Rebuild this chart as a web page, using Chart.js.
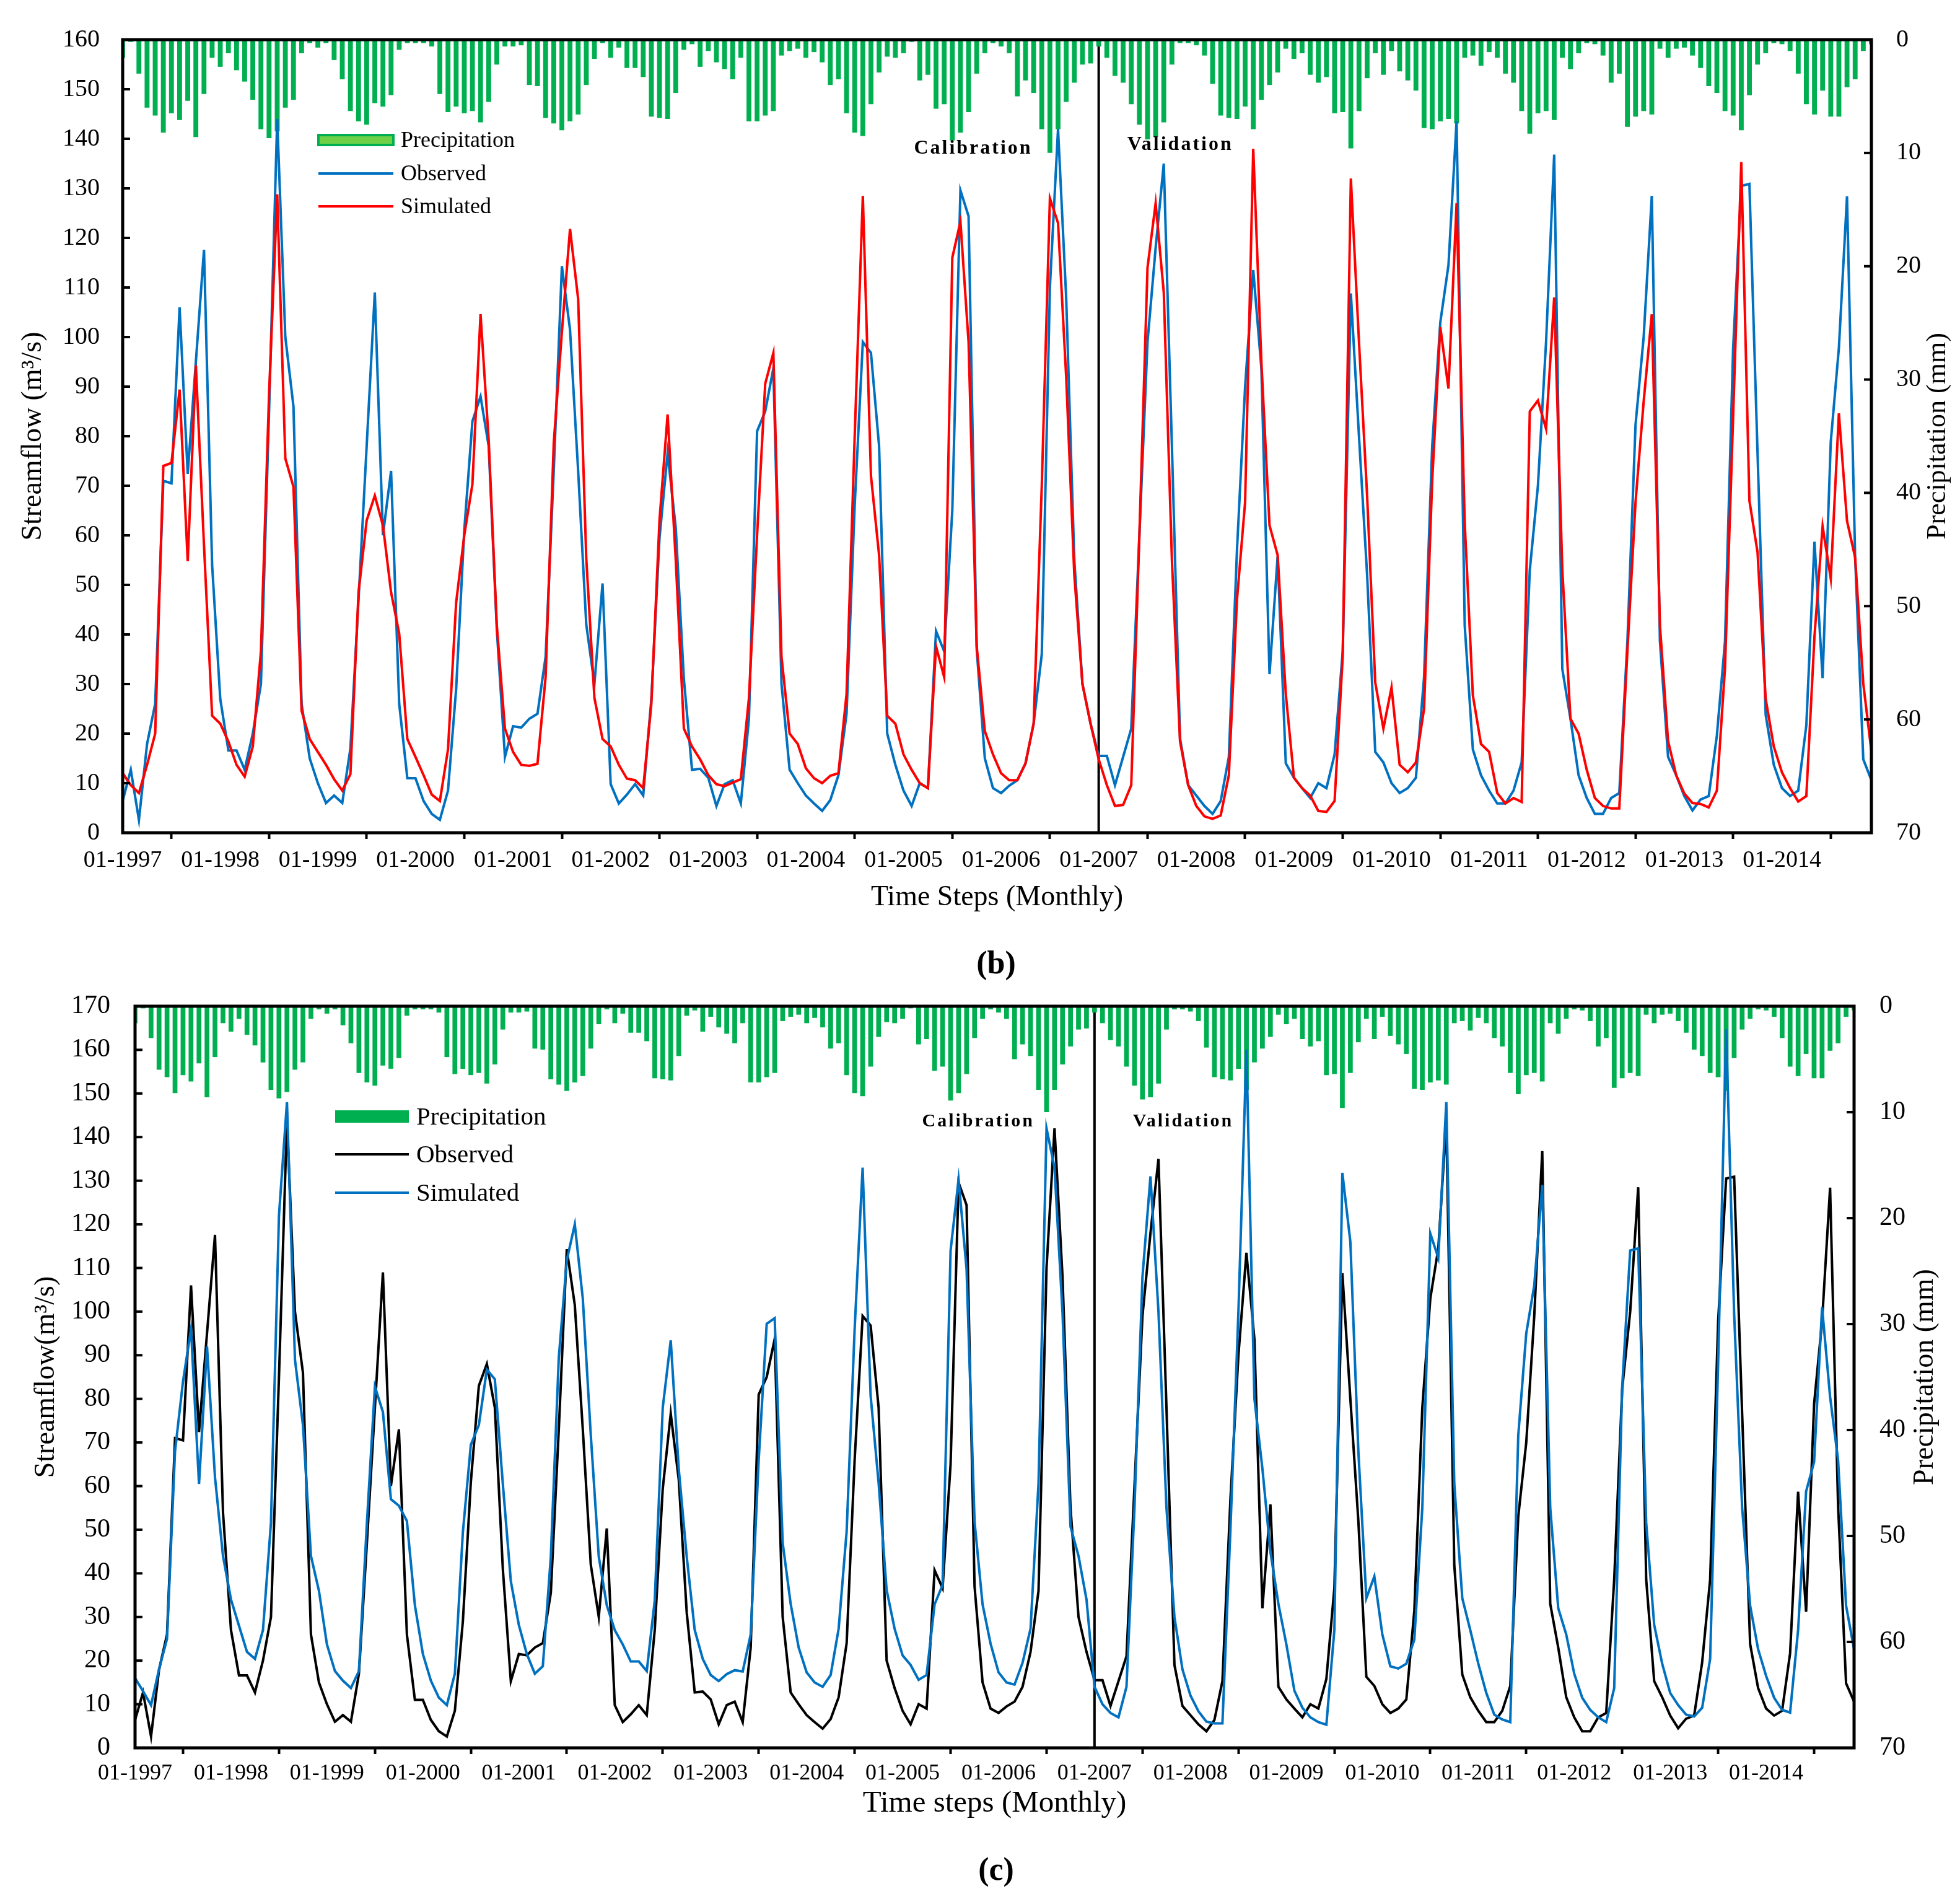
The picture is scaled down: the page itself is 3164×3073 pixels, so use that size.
<!DOCTYPE html>
<html lang="en">
<head>
<meta charset="UTF-8">
<title>Streamflow calibration and validation</title>
<script src="https://cdn.jsdelivr.net/npm/chart.js"></script>
<style>
    body { margin: 0; background: #fff; width: 3164px; height: 3073px; position: relative; overflow: hidden; }
    .panel { position: absolute; left: 0; }
    .tag { position: absolute; z-index: 2; font-family: "Liberation Serif", "Times New Roman", serif;
           font-weight: bold; font-size: 52px; line-height: 1; transform: translateX(-50%); }
</style>
</head>
<body>
<canvas id="chartB" class="panel" width="3164" height="1477" style="top:0; width:3164px; height:1477px"></canvas>
<canvas id="chartC" class="panel" width="3164" height="1401" style="top:1540px; width:3164px; height:1401px"></canvas>
<div class="tag" style="left:1608px; top:1528px">(b)</div>
<div class="tag" style="left:1608px; top:2991px">(c)</div>

<script>
// monthly time steps 01-1997 .. 12-2014
const years = [1997, 1998, 1999, 2000, 2001, 2002, 2003, 2004, 2005,
               2006, 2007, 2008, 2009, 2010, 2011, 2012, 2013, 2014];
const months = ['01', '02', '03', '04', '05', '06', '07', '08', '09', '10', '11', '12'];
const labels = years.flatMap(y => months.map(m => m + '-' + y));

// precipitation (mm), drawn hanging from the top on the right axis
const precipitation = [
    1.6, 0.2, 3.0, 6.0, 6.7, 8.2, 6.5, 7.1, 5.4, 8.6, 4.8, 1.6,
    2.4, 1.2, 2.7, 3.7, 5.3, 7.9, 8.7, 8.1, 6.0, 5.3, 1.2, 0.3,
    0.7, 0.3, 1.8, 3.5, 6.3, 7.2, 7.5, 5.6, 5.9, 4.9, 0.9, 0.3,
    0.3, 0.3, 0.6, 4.8, 6.4, 5.9, 6.5, 6.3, 7.3, 5.5, 2.2, 0.6,
    0.6, 0.5, 4.0, 4.1, 6.9, 7.4, 8.0, 7.2, 6.6, 4.0, 1.7, 0.3,
    1.6, 0.7, 2.5, 2.5, 3.3, 6.8, 6.9, 7.0, 4.7, 0.9, 0.4, 2.4,
    1.0, 2.0, 2.6, 3.5, 1.6, 7.2, 7.2, 6.7, 6.3, 1.4, 1.0, 0.8,
    1.6, 1.1, 2.0, 4.0, 3.5, 6.5, 8.2, 8.5, 5.7, 2.9, 1.5, 1.6,
    1.2, 0.2, 3.6, 3.1, 6.1, 5.7, 8.9, 8.2, 6.4, 3.0, 1.2, 0.3,
    0.6, 1.2, 5.0, 3.6, 4.7, 7.9, 10.0, 7.9, 5.5, 3.8, 2.2, 2.1,
    0.6, 1.6, 3.2, 3.8, 5.7, 7.5, 8.8, 8.6, 7.3, 2.2, 0.3, 0.3,
    0.5, 1.4, 3.9, 6.7, 6.9, 7.0, 5.9, 7.9, 5.3, 4.0, 2.9, 0.8,
    1.7, 1.2, 3.1, 3.8, 3.3, 6.5, 6.4, 9.6, 6.3, 3.4, 1.2, 3.1,
    1.0, 2.8, 3.6, 4.5, 7.8, 7.9, 7.2, 7.0, 7.4, 1.6, 1.4, 2.3,
    1.1, 1.6, 3.0, 3.8, 6.3, 8.3, 6.5, 6.3, 7.1, 1.6, 2.6, 1.2,
    0.3, 0.4, 1.4, 3.8, 3.0, 7.7, 6.8, 6.3, 6.6, 0.8, 1.6, 0.8,
    0.7, 1.4, 2.5, 4.1, 4.7, 6.3, 6.7, 8.0, 4.9, 2.2, 1.2, 0.3,
    0.4, 1.0, 3.0, 5.7, 6.6, 4.5, 6.8, 6.8, 4.2, 3.5, 1.0, 0.4
];

// observed streamflow (m3/s), same in both panels
const observed = [
    6.4, 12.7, 2.6, 17.9, 26, 71, 70.5, 106, 72.4, 95, 117.6, 54,
    27, 16.6, 16.6, 12.7, 20, 30, 85, 144, 100, 86, 26, 15,
    10, 6, 7.5, 6, 17, 47, 78, 109, 60, 73, 26, 11,
    11, 6.4, 3.8, 2.6, 8.5, 29, 61, 83, 88, 78, 41, 15.3,
    21.5, 21.2, 23, 24, 35.5, 73, 114.3, 101.5, 73, 42, 30, 50.3,
    9.8, 5.9, 7.7, 9.8, 7.5, 27, 59.4, 76.6, 61.5, 31, 12.7, 12.9,
    11.1, 5.4, 9.8, 10.6, 5.9, 23, 81, 85, 93.7, 30, 12.7, 10,
    7.5, 5.9, 4.4, 6.6, 11.6, 24, 66, 99, 96.8, 78, 20, 13.7,
    8.5, 5.4, 10, 9, 40.7, 36.6, 65, 129.6, 124.4, 37, 15, 9,
    8, 9.5, 10.6, 14, 22, 36, 110, 142, 108, 55, 30, 22,
    15.5, 15.5, 9.6, 15.3, 21, 60, 99, 118, 135, 78, 19, 9.6,
    7.5, 5.4, 3.8, 6.4, 15.3, 57, 90, 113.5, 93.7, 32, 55.8, 14,
    11.1, 9, 7, 10, 9, 15.8, 36.6, 108.8, 80, 52, 16.3, 14.2,
    10, 8, 9, 11.1, 31.4, 78, 103, 114.5, 143.6, 41.8, 16.8, 11.6,
    8.5, 5.9, 5.9, 8.5, 14.2, 53, 70, 99, 136.8, 33, 23, 11.6,
    7, 3.8, 3.8, 7, 8, 38.6, 82.3, 100, 128.5, 38.6, 15.3, 11.6,
    7.4, 4.5, 6.7, 7.4, 19.6, 38.6, 97.8, 130.5, 130.9, 76.6, 23.8, 13.7,
    9, 7.4, 8.5, 21.7, 58.7, 31.2, 78.8, 97.8, 128.4, 55.5, 14.8, 10.6
];

// simulated streamflow, panel (b)
const simulatedB = [
    12, 9.6, 8, 13.7, 20, 74, 74.6, 89.4, 54.8, 94.3, 58, 23.6,
    22, 18.4, 13.7, 11.3, 17.4, 36.6, 88.5, 128.8, 75.5, 69.8, 24.6, 18.9,
    16.3, 13.7, 10.8, 8.5, 11.8, 48.5, 63, 68, 62, 48.5, 40.2, 18.9,
    15.3, 11.6, 7.7, 6.4, 16.8, 46.4, 60, 70.3, 104.6, 79.2, 41.8, 21,
    16.3, 13.7, 13.5, 13.9, 31.4, 78.6, 101, 121.8, 107.7, 55.3, 27.2, 18.9,
    17.4, 13.7, 10.9, 10.6, 9, 26, 63, 84.4, 55, 21, 17.4, 14.8,
    11.6, 9.8, 9.4, 10.1, 10.8, 27.2, 60, 90.6, 96.8, 35.5, 20, 17.9,
    13, 11, 10, 11.5, 12, 28, 80, 128.5, 72, 56, 23.6, 22,
    15.8, 12.7, 10, 9, 37.6, 31.4, 116, 123.3, 99, 37.6, 20.5, 15.8,
    12, 10.6, 10.6, 14, 22, 70, 128, 123, 92, 52, 30, 22,
    14.8, 9.6, 5.4, 5.6, 9.6, 60, 114, 127, 109, 55, 18.4, 9.6,
    5.4, 3.3, 2.8, 3.5, 11.6, 47, 66.7, 138, 95, 62, 56, 28,
    11.1, 9, 7.5, 4.4, 4.2, 6.4, 35.5, 132, 99, 68, 30.3, 21,
    29.3, 13.7, 12.2, 14.2, 25, 71, 102, 89.6, 127, 62.5, 27.7, 17.9,
    16.3, 8, 5.9, 7, 6.2, 85, 87.2, 81.5, 108, 53, 23, 20,
    12.7, 7, 5.4, 4.9, 4.9, 36.6, 66.7, 87, 104.6, 41.8, 18.5, 11.6,
    7.9, 6, 5.8, 5.1, 8.5, 33.3, 84, 135.3, 67, 56.6, 27, 17.4,
    12.2, 9, 6.3, 7.4, 39.6, 61.8, 51.3, 84.6, 62.9, 55.5, 30.1, 16.4
];

// simulated streamflow, panel (c)
const simulatedC = [
    16, 13, 9.8, 18, 25, 68, 84, 96, 60.5, 92, 62, 44,
    34, 28, 22, 20.4, 27, 51.6, 122, 148, 89, 74, 44, 36,
    23.7, 17.6, 15.4, 13.7, 17.6, 51.6, 82.8, 77, 57, 55.5, 52, 32.7,
    21.5, 15.4, 11.5, 9.8, 17, 49.4, 69.5, 74, 86.7, 84.5, 60.5, 38.2,
    28.2, 21.5, 17, 18.7, 43.8, 89.5, 111.8, 120, 103, 71.7, 43.8, 32.7,
    27, 23.7, 19.8, 19.8, 17.6, 33.8, 78, 93.4, 64, 43.8, 27, 20.4,
    16.7, 15.3, 16.9, 17.8, 17.5, 26, 66, 97.2, 98.5, 47, 33, 23,
    17.3, 15, 14, 16.7, 27.3, 49.6, 96, 133, 80.7, 60.7, 36.2, 27.3,
    21.2, 19, 15.6, 16.7, 32.9, 37.3, 114, 130.3, 109.7, 51.8, 32.9, 23.9,
    17.3, 15, 14.5, 19.5, 27.3, 60.7, 142, 133, 99.7, 50.7, 44, 34,
    14, 10, 8, 7, 14, 55, 108, 131, 100, 55, 30, 18,
    12, 8.4, 6, 5.6, 5.6, 50, 100, 160, 80, 64, 45, 33,
    23.7, 13.1, 9.2, 7, 5.9, 5.3, 27, 131.8, 116, 68, 34.3, 39.3,
    26, 18.7, 18.2, 19.3, 24.8, 55, 117.9, 112.3, 148, 60.5, 34.3, 27,
    19.3, 12.6, 7.6, 6.5, 5.9, 71.6, 95, 106, 129, 55, 32, 26,
    17, 11.5, 8.7, 7, 5.9, 13.7, 82.8, 114, 114.5, 51.6, 28.2, 19.3,
    12.6, 9.8, 7.6, 7.2, 9.2, 20.4, 88.3, 164.7, 99.5, 55, 32.6, 22.6,
    16.5, 11.5, 8.7, 8.1, 27, 58.8, 65.5, 101, 80.5, 66, 32.6, 22.6
];

const splitIndex = labels.indexOf('01-2007');   // calibration | validation

const SERIF = '"Liberation Serif", "Times New Roman", serif';
Chart.defaults.font.family = SERIF;
Chart.defaults.color = '#000';

const GREEN = '#00b050';
const BLUE = '#0070c0';
const RED = '#ff0000';

// draws the frame, inward ticks, split line, legend and text labels
function makeDecor(p) {
    return {
        id: 'decor',
        beforeDatasetsDraw(chart) {
            const { ctx, chartArea: a } = chart;
            const px = chart.scales.x.getPixelForValue(splitIndex);
            ctx.save();
            ctx.strokeStyle = '#000';
            ctx.lineWidth = 4;
            ctx.beginPath();
            ctx.moveTo(px, a.top);
            ctx.lineTo(px, a.bottom);
            ctx.stroke();
            ctx.restore();
        },
        afterDatasetsDraw(chart) {
            const { ctx, chartArea: a, scales } = chart;
            ctx.save();
            ctx.strokeStyle = '#000';
            ctx.lineWidth = 5;
            ctx.strokeRect(a.left, a.top, a.right - a.left, a.bottom - a.top);

            // ticks pointing into the plot
            ctx.lineWidth = 4;
            scales.y.ticks.forEach(t => {
                const py = scales.y.getPixelForValue(t.value);
                ctx.beginPath(); ctx.moveTo(a.left, py); ctx.lineTo(a.left + 12, py); ctx.stroke();
            });
            scales.y2.ticks.forEach(t => {
                const py = scales.y2.getPixelForValue(t.value);
                ctx.beginPath(); ctx.moveTo(a.right, py); ctx.lineTo(a.right - 12, py); ctx.stroke();
            });

            // legend
            ctx.font = p.legendFont + 'px ' + SERIF;
            ctx.textBaseline = 'middle';
            ctx.textAlign = 'left';
            p.legend.forEach((item, i) => {
                const x = a.left + p.legendX;
                const y = a.top + p.legendY[i];
                if (item.bar) {
                    ctx.fillStyle = item.fill;
                    ctx.fillRect(x, y - p.swatchH / 2, p.swatchW, p.swatchH);
                    if (item.edge) {
                        ctx.strokeStyle = item.edge;
                        ctx.lineWidth = 4;
                        ctx.strokeRect(x, y - p.swatchH / 2, p.swatchW, p.swatchH);
                    }
                } else {
                    ctx.strokeStyle = item.color;
                    ctx.lineWidth = 4;
                    ctx.beginPath(); ctx.moveTo(x, y); ctx.lineTo(x + p.swatchW, y); ctx.stroke();
                }
                ctx.fillStyle = '#000';
                ctx.fillText(item.label, x + p.swatchW + 12, y + 2);
            });

            // period labels either side of the split
            const sx = scales.x.getPixelForValue(splitIndex);
            ctx.font = 'bold ' + p.noteFont + 'px ' + SERIF;
            ctx.letterSpacing = '3px';
            ctx.textAlign = 'right';
            ctx.fillText('Calibration', sx - p.calGap, a.top + p.calY);
            ctx.textAlign = 'left';
            ctx.fillText('Validation', sx + p.valGap, a.top + p.valY);
            ctx.letterSpacing = '0px';

            // right axis title, reading bottom to top
            ctx.font = p.rightTitleFont + 'px ' + SERIF;
            ctx.textAlign = 'center';
            ctx.translate(p.rightTitleX, (a.top + a.bottom) / 2);
            ctx.rotate(-Math.PI / 2);
            ctx.fillText('Precipitation (mm)', 0, 0);
            ctx.restore();
        }
    };
}

function makeChart(id, p) {
    return new Chart(document.getElementById(id), {
        data: {
            labels: labels,
            datasets: [
                { type: 'line', label: 'Simulated', data: p.simulated, yAxisID: 'y',
                  borderColor: p.simColor, borderWidth: 4, pointRadius: 0, tension: 0, order: 1 },
                { type: 'line', label: 'Observed', data: observed, yAxisID: 'y',
                  borderColor: p.obsColor, borderWidth: 4, pointRadius: 0, tension: 0, order: 2 },
                { type: 'bar', label: 'Precipitation', data: precipitation, yAxisID: 'y2',
                  backgroundColor: GREEN, barPercentage: 0.6, categoryPercentage: 1, order: 3 }
            ]
        },
        options: {
            responsive: false,
            animation: false,
            events: [],
            layout: { padding: { top: p.padTop, left: 0, right: 0, bottom: 0 } },
            plugins: { legend: { display: false }, tooltip: { enabled: false } },
            scales: {
                x: {
                    type: 'category',
                    offset: false,
                    afterBuildTicks: s => { s.ticks = s.ticks.filter(t => t.value % 12 === 0); },
                    afterFit: s => { s.height = p.xHeight; },
                    grid: { display: true, drawOnChartArea: false, drawTicks: true, tickLength: 10,
                            tickColor: '#000', tickWidth: 4 },
                    border: { display: false },
                    ticks: { autoSkip: false, maxRotation: 0, minRotation: 0, padding: p.xPad,
                             font: { size: p.xTickFont } },
                    title: { display: true, text: p.xTitle, font: { size: p.xTitleFont },
                             padding: { top: 0, bottom: 0 } }
                },
                y: {
                    position: 'left',
                    min: 0, max: p.yMax,
                    afterFit: s => { s.width = p.leftW; },
                    grid: { drawOnChartArea: false, drawTicks: false },
                    border: { display: false },
                    ticks: { stepSize: 10, padding: p.yPad, font: { size: p.yTickFont } },
                    title: { display: true, text: p.yTitle, font: { size: p.yTitleFont },
                             padding: { top: p.yTitlePad, bottom: 0 } }
                },
                y2: {
                    position: 'right',
                    reverse: true,
                    min: 0, max: 70,
                    afterFit: s => { s.width = p.rightW; },
                    grid: { drawOnChartArea: false, drawTicks: false },
                    border: { display: false },
                    ticks: { stepSize: 10, padding: p.y2Pad, font: { size: p.yTickFont } }
                }
            }
        },
        plugins: [makeDecor(p)]
    });
}

makeChart('chartB', {
    simulated: simulatedB, simColor: RED, obsColor: BLUE,
    padTop: 50, xHeight: 133, leftW: 198, rightW: 143,
    yMax: 160, xPad: 12, yPad: 37, y2Pad: 40,
    xTickFont: 38, yTickFont: 40,
    xTitle: 'Time Steps (Monthly)', xTitleFont: 46,
    yTitle: 'Streamflow (m³/s)', yTitleFont: 46, yTitlePad: 26,
    rightTitleX: 3128, rightTitleFont: 44,
    legendFont: 36, legendX: 316, legendY: [162, 216, 269], swatchW: 121, swatchH: 16,
    legend: [
        { label: 'Precipitation', bar: true, fill: '#6fcf47', edge: GREEN },
        { label: 'Observed', color: BLUE },
        { label: 'Simulated', color: RED }
    ],
    noteFont: 32, calGap: 107, calY: 176, valGap: 46, valY: 170
});

makeChart('chartC', {
    simulated: simulatedC, simColor: BLUE, obsColor: '#000000',
    padTop: 84, xHeight: 120, leftW: 218, rightW: 171,
    yMax: 170, xPad: 10, yPad: 40, y2Pad: 41,
    xTickFont: 36, yTickFont: 42,
    xTitle: 'Time steps (Monthly)', xTitleFont: 49,
    yTitle: 'Streamflow(m³/s)', yTitleFont: 46, yTitlePad: 47,
    rightTitleX: 3108, rightTitleFont: 46,
    legendFont: 41, legendX: 323, legendY: [178, 239, 301], swatchW: 119, swatchH: 20,
    legend: [
        { label: 'Precipitation', bar: true, fill: GREEN },
        { label: 'Observed', color: '#000000' },
        { label: 'Simulated', color: BLUE }
    ],
    noteFont: 30, calGap: 97, calY: 186, valGap: 62, valY: 186
});
</script>
</body>
</html>
